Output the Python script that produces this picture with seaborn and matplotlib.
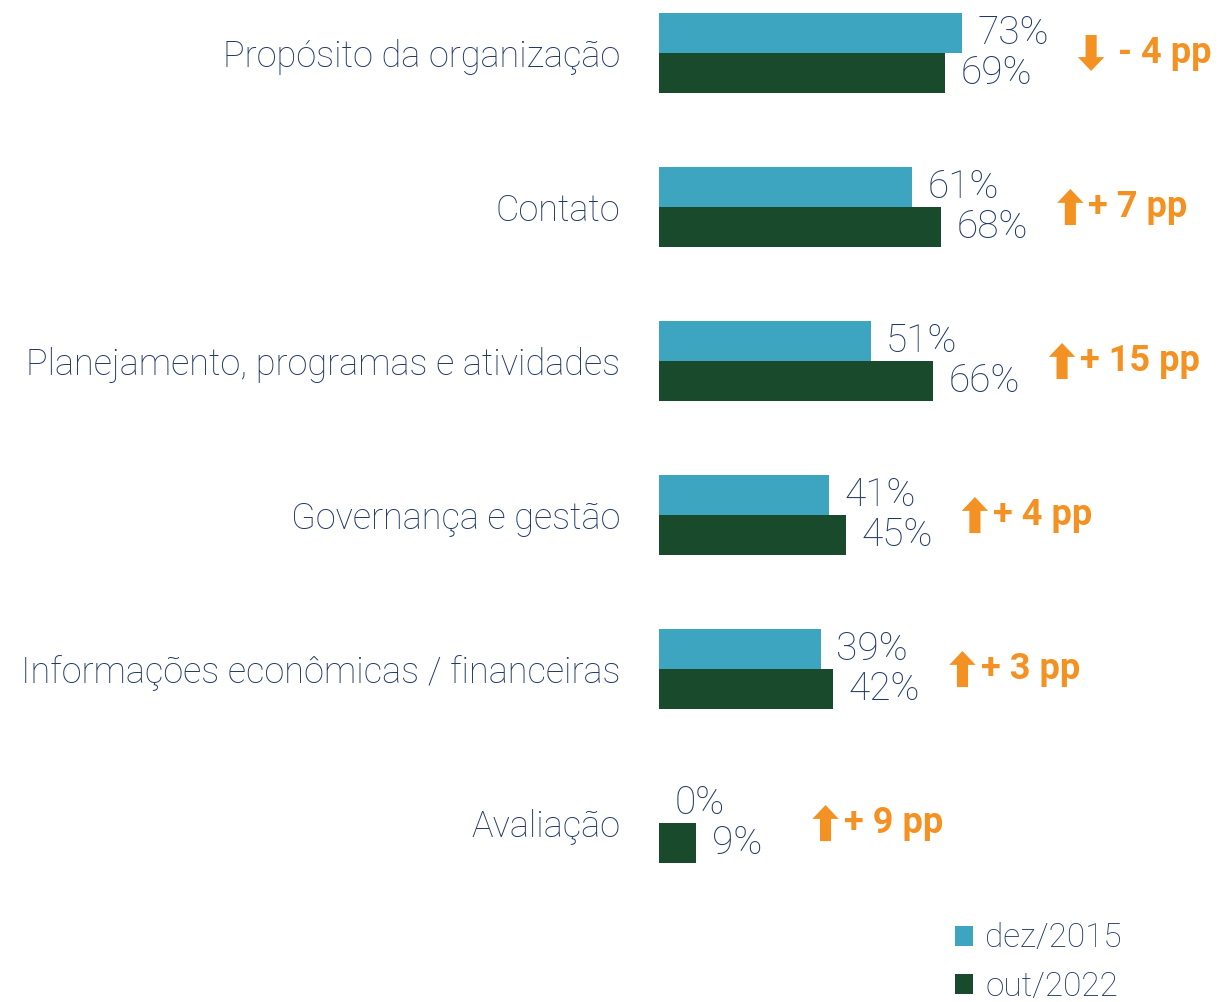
import pandas as pd
import matplotlib.pyplot as plt
import matplotlib.transforms as mtransforms
import seaborn as sns

# data
categories = [
    "Propósito da organização",
    "Contato",
    "Planejamento, programas e atividades",
    "Governança e gestão",
    "Informações econômicas / financeiras",
    "Avaliação",
]
periods = ["dez/2015", "out/2022"]
dez_2015 = [73, 61, 51, 41, 39, 0]
out_2022 = [69, 68, 66, 45, 42, 9]

teal = "#3EA5C0"
green = "#184A2B"
navy = "#1F3864"
orange = "#F39223"

df = pd.DataFrame({
    "Categoria": categories * 2,
    "Valor": dez_2015 + out_2022,
    "Periodo": [periods[0]] * len(categories) + [periods[1]] * len(categories),
})

sns.set_theme(style="white")
plt.rcParams["font.family"] = ["Roboto", "DejaVu Sans"]

fig = plt.figure(figsize=(12.22, 10.02), dpi=100)
ax = fig.add_axes([659 / 1222, 0, 563 / 1222, 1])

sns.barplot(
    data=df, y="Categoria", x="Valor", hue="Periodo",
    palette=[teal, green], width=0.52, orient="h", ax=ax,
    saturation=1, linewidth=0,
)

ax.set_xlim(0, 563 / 4.15)
ax.set_ylim(6.162, -0.344)
ax.set_xlabel("")
ax.set_ylabel("")
ax.set_xticks([])
sns.despine(ax=ax, left=True, bottom=True)
ax.tick_params(axis="y", length=0, pad=28)
for lbl in ax.get_yticklabels():
    lbl.set_fontsize(26)
    lbl.set_fontweight("light")
    lbl.set_color(navy)

# value labels
for cont in ax.containers:
    ax.bar_label(cont, labels=[f"{v:.0f}%" for v in cont.datavalues],
                 padding=11, fontsize=28, fontweight="light", color=navy)

# change arrows and text
for i, (a, b) in enumerate(zip(dez_2015, out_2022)):
    d = b - a
    end = max(a, b)
    arr_tr = mtransforms.offset_copy(ax.transData, fig=fig, x=93, y=0, units="points")
    if d >= 0:
        tail, head = (end, i + 0.117), (end, i - 0.117)
        txt = f"+ {d} pp"
        tx = 106
    else:
        tail, head = (end, i - 0.117), (end, i + 0.117)
        txt = f"- {abs(d)} pp"
        tx = 112
    ax.annotate("", xy=head, xycoords=arr_tr, xytext=tail, textcoords=arr_tr,
                arrowprops=dict(arrowstyle="simple,head_length=1.0,head_width=1.9,tail_width=0.8",
                                mutation_scale=10, color=orange, shrinkA=0, shrinkB=0, lw=0))
    txt_tr = mtransforms.offset_copy(ax.transData, fig=fig, x=tx, y=0, units="points")
    ax.text(end, i, txt, transform=txt_tr, ha="left", va="center",
            fontsize=26, fontweight="bold", color=orange)

sns.move_legend(
    ax, loc="upper left", bbox_to_anchor=(0.768, 0.096),
    bbox_transform=fig.transFigure, title=None, frameon=False,
    fontsize=24, handlelength=0.55, handleheight=0.55, handletextpad=0.35,
    labelspacing=0.5, borderpad=0,
)
for t in ax.get_legend().get_texts():
    t.set_color(navy)
    t.set_fontweight("light")

fig.savefig("out.png", dpi=100)
